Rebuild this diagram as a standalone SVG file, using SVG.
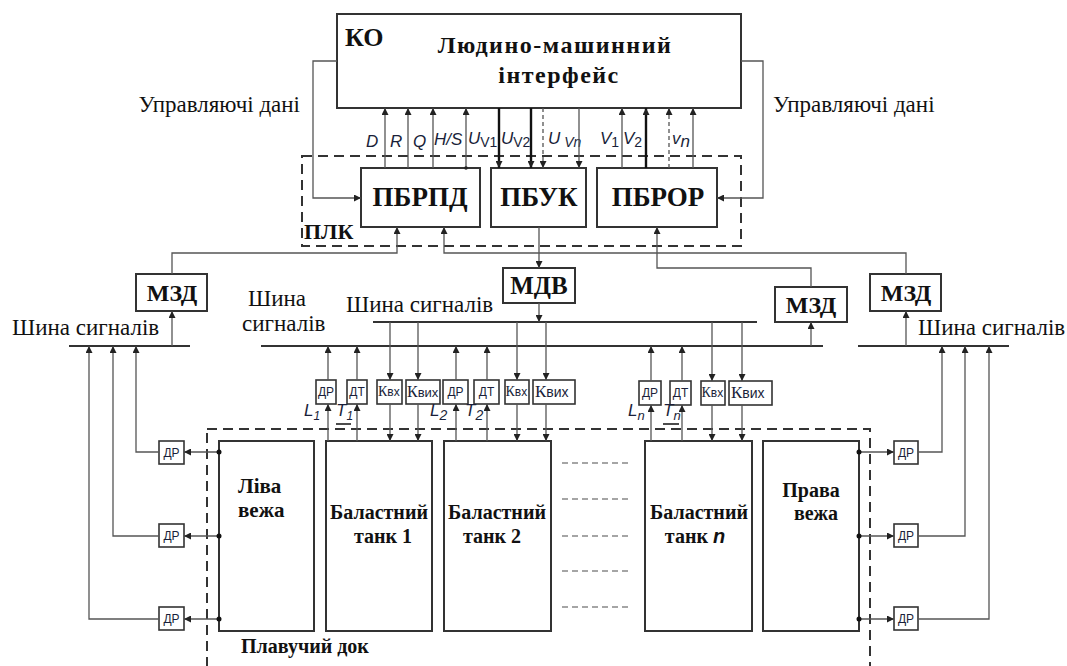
<svg xmlns="http://www.w3.org/2000/svg" width="1067" height="666" viewBox="0 0 1067 666">
<defs>
<marker id="ah" viewBox="0 0 10 10" refX="10" refY="5" markerWidth="7" markerHeight="7" markerUnits="userSpaceOnUse" orient="auto"><path d="M0,0 L10,5 L0,10 z" fill="#222"/></marker>
<style>
.box{fill:#fff;stroke:#333;stroke-width:2}
.sbox{fill:#fff;stroke:#333;stroke-width:1.6}
.dash{fill:none;stroke:#333;stroke-width:2;stroke-dasharray:10,6}
.lna{fill:none;stroke:#555;stroke-width:1.3;marker-end:url(#ah)}
.thk{fill:none;stroke:#111;stroke-width:2.4;marker-end:url(#ah)}
.dl{fill:none;stroke:#555;stroke-width:1.3;stroke-dasharray:4,3;marker-end:url(#ah)}
.bus{stroke:#333;stroke-width:2}
.b{font-family:"Liberation Serif","Times New Roman","DejaVu Serif",serif;font-weight:bold;fill:#111}
.r{font-family:"Liberation Serif","Times New Roman","DejaVu Serif",serif;fill:#111;font-size:23px}
.i{font-family:"Liberation Sans",Arial,sans-serif;font-style:italic;fill:#1a1f3a;font-size:17px}
.s{font-family:"Liberation Sans",Arial,sans-serif;fill:#1a1f3a;font-size:12px}
.k{font-family:"Liberation Serif","Times New Roman","DejaVu Serif",serif}
.gd{stroke:#888;stroke-width:1.5;stroke-dasharray:6,4}
.ul{stroke:#111;stroke-width:1.5}
</style>
</defs>

<g id="KO">
<rect class="box" x="337" y="14" width="404" height="94"/>
<text class="b" x="345" y="46" font-size="26">КО</text>
<text class="b" x="555" y="53" font-size="24" letter-spacing="1.5" text-anchor="middle">Людино-машинний</text>
<text class="b" x="559" y="83" font-size="24" letter-spacing="1.5" text-anchor="middle">інтерфейс</text>
</g>

<g id="labels-top">
<text class="r" x="300" y="112" text-anchor="end">Управляючі дані</text>
<text class="r" x="773" y="112">Управляючі дані</text>
<text class="i" x="366" y="147">D</text>
<text class="i" x="390" y="147">R</text>
<text class="i" x="413" y="147">Q</text>
<text class="i" x="434" y="145" font-size="13">H/S</text>
<text class="i" x="468" y="144">U<tspan font-size="14" dy="3" font-style="normal">V1</tspan></text>
<text class="i" x="501" y="144">U<tspan font-size="14" dy="3" font-style="normal">V2</tspan></text>
<text class="i" x="548" y="144">U<tspan font-size="14" dy="3"> Vn</tspan></text>
<text class="i" x="600" y="144">V<tspan font-size="14" dy="3" font-style="normal">1</tspan></text>
<text class="i" x="623" y="144">V<tspan font-size="14" dy="3" font-style="normal">2</tspan></text>
<text class="i" x="672" y="144" font-size="14">v<tspan dy="3">n</tspan></text>
</g>

<g id="PLC">
<rect class="dash" x="302" y="156" width="439" height="90"/>
<text class="b" x="304" y="239" font-size="22">ПЛК</text>
</g>
<g id="PBRPD">
<rect class="box" x="361" y="168" width="119" height="59"/>
<text class="b" x="420" y="206" font-size="27" text-anchor="middle">ПБРПД</text>
</g>
<g id="PBUK">
<rect class="box" x="491" y="168" width="95" height="59"/>
<text class="b" x="539" y="206" font-size="27" text-anchor="middle">ПБУК</text>
</g>
<g id="PBROR">
<rect class="box" x="597" y="168" width="120" height="59"/>
<text class="b" x="658" y="206" font-size="27" text-anchor="middle">ПБРОР</text>
</g>

<g id="MDV">
<rect class="box" x="503" y="268" width="72" height="35"/>
<text class="b" x="539" y="294" font-size="25" text-anchor="middle">МДВ</text>
</g>
<g id="MZD-left">
<rect class="box" x="136" y="274" width="71" height="37"/>
<text class="b" x="172" y="301" font-size="24" text-anchor="middle">МЗД</text>
</g>
<g id="MZD-mid">
<rect class="box" x="775" y="287" width="72" height="35"/>
<text class="b" x="811" y="313" font-size="24" text-anchor="middle">МЗД</text>
</g>
<g id="MZD-right">
<rect class="box" x="870" y="274" width="71" height="37"/>
<text class="b" x="906" y="301" font-size="24" text-anchor="middle">МЗД</text>
</g>

<g id="buses">
<line class="bus" x1="69" y1="346" x2="190" y2="346"/>
<line class="bus" x1="261" y1="346" x2="823" y2="346"/>
<line class="bus" x1="373" y1="322" x2="757" y2="322"/>
<line class="bus" x1="858" y1="346" x2="1009" y2="346"/>
<text class="r" x="12" y="335">Шина сигналів</text>
<text class="r" x="248" y="306">Шина</text>
<text class="r" x="242" y="331">сигналів</text>
<text class="r" x="346" y="312">Шина сигналів</text>
<text class="r" x="918" y="335">Шина сигналів</text>
</g>

<g id="sensors">
<rect class="sbox" x="316" y="380" width="20" height="24"/><text class="s" x="326" y="396" text-anchor="middle">ДР</text>
<rect class="sbox" x="347" y="380" width="20" height="24"/><text class="s" x="357" y="396" text-anchor="middle">ДТ</text>
<rect class="sbox" x="377" y="380" width="25" height="24"/><text class="s" x="378" y="396"><tspan class="k" font-size="14">К</tspan>вх</text>
<rect class="sbox" x="406" y="380" width="34" height="24"/><text class="s" x="407" y="397"><tspan class="k" font-size="16">К</tspan><tspan font-size="13">вих</tspan></text>
<rect class="sbox" x="443" y="380" width="25" height="24"/><text class="s" x="455.5" y="396" text-anchor="middle">ДР</text>
<rect class="sbox" x="474" y="380" width="25" height="24"/><text class="s" x="486.5" y="396" text-anchor="middle">ДТ</text>
<rect class="sbox" x="505" y="380" width="24" height="24"/><text class="s" x="505.5" y="396"><tspan class="k" font-size="14">К</tspan>вх</text>
<rect class="sbox" x="533" y="380" width="42" height="24"/><text class="s" x="535" y="397"><tspan class="k" font-size="17">К</tspan><tspan font-size="14">вих</tspan></text>
<rect class="sbox" x="639" y="381" width="22" height="24"/><text class="s" x="650" y="397" text-anchor="middle">ДР</text>
<rect class="sbox" x="670" y="381" width="21" height="24"/><text class="s" x="680.5" y="397" text-anchor="middle">ДТ</text>
<rect class="sbox" x="701" y="381" width="24" height="24"/><text class="s" x="701.5" y="397"><tspan class="k" font-size="14">К</tspan>вх</text>
<rect class="sbox" x="729" y="381" width="43" height="24"/><text class="s" x="731" y="398"><tspan class="k" font-size="17">К</tspan><tspan font-size="14">вих</tspan></text>
<text class="i" x="304" y="416" font-size="16">L<tspan font-size="12" dy="4">1</tspan></text>
<text class="i" x="336" y="416" font-size="16">T<tspan font-size="12" dy="4">1</tspan></text>
<line class="ul" x1="336" y1="424" x2="351" y2="424"/>
<text class="i" x="430" y="416" font-size="17">L<tspan font-size="14" dy="4">2</tspan></text>
<text class="i" x="465" y="416" font-size="17">T<tspan font-size="14" dy="4">2</tspan></text>
<text class="i" x="628" y="416" font-size="16">L<tspan font-size="13" dy="4">n</tspan></text>
<text class="i" x="663" y="416" font-size="16">T<tspan font-size="13" dy="4">n</tspan></text>
<line class="ul" x1="663" y1="424" x2="679" y2="424"/>
</g>

<g id="dock">
<rect class="dash" x="207" y="429" width="663" height="240"/>
<text class="b" x="241" y="653" font-size="20">Плавучий док</text>
</g>
<g id="tower-left">
<rect class="box" x="219" y="441" width="95" height="190"/>
<text class="b" x="238" y="493" font-size="21">Ліва</text>
<text class="b" x="238" y="517" font-size="21">вежа</text>
</g>
<g id="tank1">
<rect class="box" x="326" y="441" width="106" height="190"/>
<text class="b" x="379" y="519" font-size="20" text-anchor="middle">Баластний</text>
<text class="b" x="383" y="543" font-size="20" text-anchor="middle">танк 1</text>
</g>
<g id="tank2">
<rect class="box" x="444" y="441" width="107" height="190"/>
<text class="b" x="497" y="519" font-size="20" text-anchor="middle">Баластний</text>
<text class="b" x="492" y="543" font-size="20" text-anchor="middle">танк 2</text>
</g>
<g id="tankn">
<rect class="box" x="645" y="441" width="107" height="190"/>
<text class="b" x="699" y="519" font-size="20" text-anchor="middle">Баластний</text>
<text class="b" x="695" y="543" font-size="20" text-anchor="middle">танк <tspan font-family="Liberation Sans,Arial,sans-serif" font-style="italic">n</tspan></text>
</g>
<g id="tower-right">
<rect class="box" x="763" y="441" width="96" height="190"/>
<text class="b" x="811" y="497" font-size="20" text-anchor="middle">Права</text>
<text class="b" x="816" y="520" font-size="20" text-anchor="middle">вежа</text>
</g>
<g id="ellipsis">
<line class="gd" x1="562" y1="463" x2="632" y2="463"/>
<line class="gd" x1="562" y1="499" x2="632" y2="499"/>
<line class="gd" x1="562" y1="536" x2="632" y2="536"/>
<line class="gd" x1="562" y1="571" x2="632" y2="571"/>
<line class="gd" x1="562" y1="607" x2="632" y2="607"/>
</g>

<g id="dr-left">
<rect class="sbox" x="159" y="441" width="25" height="23"/><text class="s" x="171.5" y="457" text-anchor="middle">ДР</text>
<rect class="sbox" x="159" y="524" width="25" height="23"/><text class="s" x="171.5" y="540" text-anchor="middle">ДР</text>
<rect class="sbox" x="159" y="607" width="25" height="23"/><text class="s" x="171.5" y="623" text-anchor="middle">ДР</text>
</g>
<g id="dr-right">
<rect class="sbox" x="894" y="441" width="24" height="23"/><text class="s" x="906" y="457" text-anchor="middle">ДР</text>
<rect class="sbox" x="894" y="524" width="24" height="23"/><text class="s" x="906" y="540" text-anchor="middle">ДР</text>
<rect class="sbox" x="894" y="607" width="24" height="23"/><text class="s" x="906" y="623" text-anchor="middle">ДР</text>
</g>

<g id="connectors">
<polyline class="lna" points="337,61 313,61 313,198 361,198"/>
<polyline class="lna" points="741,61 763,61 763,198 717,198"/>
<line class="lna" x1="385" y1="168" x2="385" y2="108"/>
<line class="lna" x1="408" y1="168" x2="408" y2="108"/>
<line class="lna" x1="433" y1="168" x2="433" y2="108"/>
<line class="lna" x1="466" y1="168" x2="466" y2="108"/>
<circle cx="466" cy="168" r="1.8" fill="#222"/>
<line class="thk" x1="499" y1="108" x2="499" y2="168"/>
<line class="thk" x1="531" y1="108" x2="531" y2="168"/>
<line class="dl" x1="543" y1="108" x2="543" y2="168"/>
<line class="lna" x1="579" y1="108" x2="579" y2="168"/>
<line class="lna" x1="622" y1="168" x2="622" y2="108"/>
<line class="thk" x1="646" y1="168" x2="646" y2="108"/>
<line class="dl" x1="669" y1="168" x2="669" y2="108"/>
<line class="lna" x1="693" y1="168" x2="693" y2="108"/>
<line class="lna" x1="539" y1="227" x2="539" y2="268"/>
<polyline class="lna" points="172,274 172,253 397,253 397,227"/>
<polyline class="lna" points="906,274 906,253 444,253 444,227"/>
<polyline class="lna" points="811,287 811,268 657,268 657,227"/>
<line class="lna" x1="539" y1="303" x2="539" y2="322"/>
<line class="lna" x1="172" y1="346" x2="172" y2="311"/>
<line class="lna" x1="906" y1="346" x2="906" y2="311"/>
<line class="lna" x1="811" y1="346" x2="811" y2="322"/>
<line class="lna" x1="328" y1="380" x2="328" y2="346"/><line class="lna" x1="328" y1="441" x2="328" y2="404"/>
<line class="lna" x1="357" y1="380" x2="357" y2="346"/><line class="lna" x1="357" y1="441" x2="357" y2="404"/>
<line class="lna" x1="390" y1="322" x2="390" y2="380"/><line class="lna" x1="390" y1="404" x2="390" y2="441"/>
<line class="lna" x1="418" y1="322" x2="418" y2="380"/><line class="lna" x1="418" y1="404" x2="418" y2="441"/>
<line class="lna" x1="456" y1="380" x2="456" y2="346"/><line class="lna" x1="456" y1="441" x2="456" y2="404"/>
<line class="lna" x1="487" y1="380" x2="487" y2="346"/><line class="lna" x1="487" y1="441" x2="487" y2="404"/>
<line class="lna" x1="517" y1="322" x2="517" y2="380"/><line class="lna" x1="517" y1="404" x2="517" y2="441"/>
<line class="lna" x1="546" y1="322" x2="546" y2="380"/><line class="lna" x1="546" y1="404" x2="546" y2="441"/>
<line class="lna" x1="651" y1="381" x2="651" y2="346"/><line class="lna" x1="651" y1="441" x2="651" y2="405"/>
<line class="lna" x1="682" y1="381" x2="682" y2="346"/><line class="lna" x1="682" y1="441" x2="682" y2="405"/>
<line class="lna" x1="712" y1="322" x2="712" y2="381"/><line class="lna" x1="712" y1="405" x2="712" y2="441"/>
<line class="lna" x1="742" y1="322" x2="742" y2="381"/><line class="lna" x1="742" y1="405" x2="742" y2="441"/>
<line class="lna" x1="219" y1="452" x2="184" y2="452"/><polyline class="lna" points="159,452 136,452 136,346"/>
<line class="lna" x1="219" y1="536" x2="184" y2="536"/><polyline class="lna" points="159,536 113,536 113,346"/>
<line class="lna" x1="219" y1="619" x2="184" y2="619"/><polyline class="lna" points="159,619 89,619 89,346"/>
<line class="lna" x1="859" y1="452" x2="894" y2="452"/><polyline class="lna" points="918,452 942,452 942,346"/>
<line class="lna" x1="859" y1="536" x2="894" y2="536"/><polyline class="lna" points="918,536 965,536 965,346"/>
<line class="lna" x1="859" y1="619" x2="894" y2="619"/><polyline class="lna" points="918,619 989,619 989,346"/>
<circle cx="219" cy="452" r="2.5" fill="#111"/><circle cx="219" cy="536" r="2.5" fill="#111"/><circle cx="219" cy="619" r="2.5" fill="#111"/>
<circle cx="859" cy="452" r="2.5" fill="#111"/><circle cx="859" cy="536" r="2.5" fill="#111"/><circle cx="859" cy="619" r="2.5" fill="#111"/>
</g>
</svg>
